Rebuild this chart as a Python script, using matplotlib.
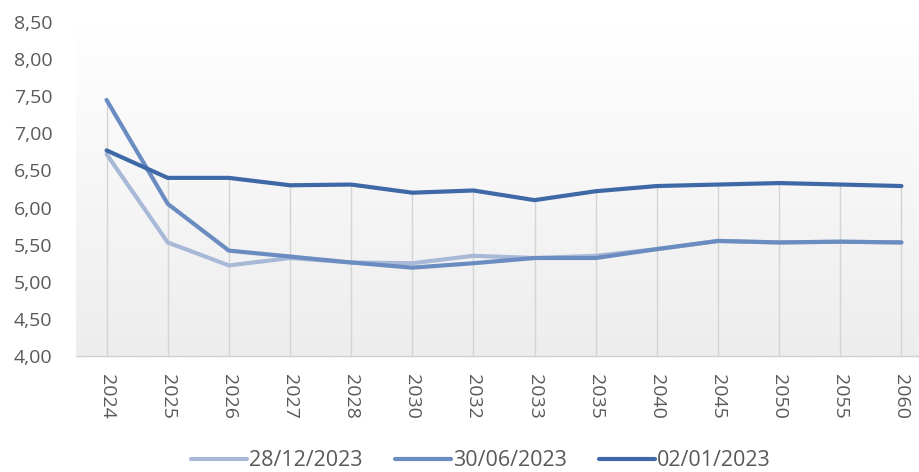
import matplotlib
matplotlib.use("Agg")
import matplotlib.pyplot as plt
import numpy as np
from matplotlib.colors import LinearSegmentedColormap

plt.rcParams['font.family'] = ['Open Sans', 'DejaVu Sans']

years = ["2024", "2025", "2026", "2027", "2028", "2030", "2032", "2033",
         "2035", "2040", "2045", "2050", "2055", "2060"]
s_dec = [6.72, 5.53, 5.22, 5.32, 5.26, 5.25, 5.35, 5.32, 5.35, 5.44, 5.55, 5.53, 5.54, 5.53]
s_jun = [7.45, 6.05, 5.42, 5.34, 5.26, 5.19, 5.25, 5.32, 5.32, 5.44, 5.55, 5.53, 5.54, 5.53]
s_jan = [6.77, 6.40, 6.40, 6.30, 6.31, 6.20, 6.23, 6.10, 6.22, 6.29, 6.31, 6.33, 6.31, 6.29]
labels = ["28/12/2023", "30/06/2023", "02/01/2023"]
yticks = [4.0, 4.5, 5.0, 5.5, 6.0, 6.5, 7.0, 7.5, 8.0, 8.5]

colors = ["#a8b9d7", "#6b8cc1", "#3f69a6"]

fig = plt.figure(figsize=(9.2, 4.72), dpi=100)
ax = fig.add_axes([76/920, 1-356/472, 856/920, (356-22)/472])
x = np.arange(len(years))

# gradient background (white at top, light grey at bottom)
grad = np.linspace(0, 1, 256).reshape(-1, 1)
cmap = LinearSegmentedColormap.from_list("g", ["#ffffff", "#ededed"])
ax.imshow(grad, extent=[-0.5, len(years)-0.5, 4.0, 8.5], aspect='auto',
          cmap=cmap, zorder=0, origin='upper')

# drop lines
tops = np.max(np.vstack([s_dec, s_jun, s_jan]), axis=0)
ax.vlines(x, 4.0, tops, color="#d4d4d4", lw=1, zorder=1)

for s, c, l in zip([s_dec, s_jun, s_jan], colors, labels):
    ax.plot(x, s, color=c, lw=3, label=l, zorder=3, solid_capstyle='round',
            solid_joinstyle='round')

ax.set_xlim(-0.5, len(years)-0.5)
ax.set_ylim(4.0, 8.5)
ax.set_yticks(yticks)
ax.set_yticklabels([f"{v:.2f}".replace(".", ",") for v in yticks])
ax.set_xticks(x)
ax.set_xticklabels(years, rotation=-90)
ax.tick_params(axis='both', length=0, colors="#595959", labelsize=14)
ax.tick_params(axis='x', pad=13)
ax.tick_params(axis='y', pad=17)
for sp in ["top", "right", "left"]:
    ax.spines[sp].set_visible(False)
ax.spines["bottom"].set_color("#d0d0d0")
ax.spines["bottom"].set_linewidth(1)
ax.spines["bottom"].set_zorder(2)

leg = fig.legend(loc="center", bbox_to_anchor=(481/920, 1-461/472), ncol=3,
                 frameon=False, fontsize=15.5, handlelength=2.6, handletextpad=0.1,
                 columnspacing=1.5)
for t in leg.get_texts():
    t.set_color("#595959")

fig.savefig("out.png", dpi=100)
